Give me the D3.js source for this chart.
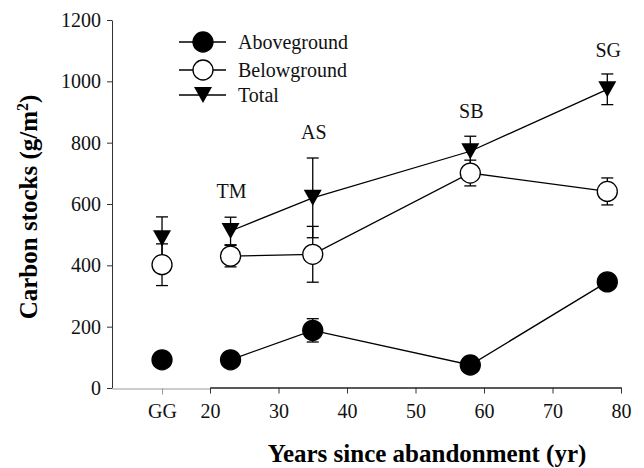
<!DOCTYPE html>
<html><head><meta charset="utf-8">
<script src="https://cdn.jsdelivr.net/npm/d3@7"></script>
<style>body{margin:0;background:#fff}svg{display:block}text{font-family:"Liberation Serif","DejaVu Serif",serif}</style>
</head><body><svg id="c" width="644" height="468"></svg>
<script>
// ---- data ----
const sites = ["GG", "TM", "AS", "SB", "SG"];
const years = [13, 23, 35, 58, 78];            // GG plotted on the broken left segment
const xTicks = [20, 30, 40, 50, 60, 70, 80];
const yTicks = [0, 200, 400, 600, 800, 1000, 1200];
const above = [92, 92, 188, 75, 346];
const aboveErr = [0, 0, 38, 0, 0];
const below = [402, 430, 436, 701, 641];
const belowErr = [68, 35, 91, 42, 44];
const total = [488, 512, 620, 772, 974];
const totalErr = [70, 45, 130, 49, 50];
const siteLabelAt = [null, 642, 835, 902, 1101];
const seriesNames = ["Aboveground", "Belowground", "Total"];

// ---- layout ----
const svg = d3.select("#c");
const x = d3.scaleLinear().domain([20, 80]).range([210, 621]);
const xLeft = d3.scaleLinear().domain([5.7, 20]).range([112, 210]);
const y = d3.scaleLinear().domain([0, 1200]).range([388, 20]);
const px = v => v < 20 ? xLeft(v) : x(v);

// y axis
const ya = svg.append("g").attr("transform", "translate(112,0)")
  .call(d3.axisLeft(y).tickValues(yTicks).tickFormat(d3.format("d")).tickSize(5).tickSizeOuter(0).tickPadding(6));
ya.selectAll("text").attr("font-size", 20).attr("fill", "#111");
ya.selectAll("line,path").attr("stroke", "#333");

// x axis, broken: grey left part with GG, black main part
const xl = svg.append("g").attr("transform", "translate(0,388.5)")
  .call(d3.axisBottom(xLeft).tickValues([years[0]]).tickFormat(() => sites[0]).tickSize(6).tickSizeOuter(0).tickPadding(9));
xl.selectAll("line,path").attr("stroke", "#999");
const xa = svg.append("g").attr("transform", "translate(0,387.5)")
  .call(d3.axisBottom(x).tickValues(xTicks).tickFormat(d3.format("d")).tickSize(6).tickSizeOuter(0).tickPadding(10));
xa.select("path").attr("stroke", "#222").attr("stroke-width", 1.6);
xa.selectAll("line").attr("stroke", "#333");
[xl, xa, ya].forEach(g => g.attr("font-family", null).selectAll("text").attr("font-size", 20).attr("fill", "#111"));

// titles
svg.append("text").attr("x", 427).attr("y", 462).attr("text-anchor", "middle")
  .attr("font-size", 25).attr("font-weight", "bold").text("Years since abandonment (yr)");
const yt = svg.append("text").attr("transform", "translate(37,207) rotate(-90)").attr("text-anchor", "middle")
  .attr("font-size", 25).attr("font-weight", "bold");
yt.append("tspan").text("Carbon stocks (g/m");
yt.append("tspan").attr("font-size", 16).attr("dy", -9).text("2");
yt.append("tspan").attr("dy", 9).text(")");

// series
const idx = d3.range(1, sites.length); // connected points (GG not joined)
const line = d3.line();
const tri = (cx, cy, w, h) => `M${cx - w / 2},${cy - h / 2}L${cx + w / 2},${cy - h / 2}L${cx},${cy + h / 2}Z`;

function drawLine(vals) {
  svg.append("path").attr("d", line(idx.map(i => [px(years[i]), y(vals[i])])))
    .attr("fill", "none").attr("stroke", "#000").attr("stroke-width", 1.3);
}
function drawErr(vals, errs) {
  vals.forEach((v, i) => {
    if (!errs[i]) return;
    const cx = px(years[i]);
    const g = svg.append("g").attr("stroke", "#000").attr("stroke-width", 1.3);
    g.append("line").attr("x1", cx).attr("x2", cx).attr("y1", y(v - errs[i])).attr("y2", y(v + errs[i]));
    [v - errs[i], v + errs[i]].forEach(e => g.append("line").attr("x1", cx - 6).attr("x2", cx + 6).attr("y1", y(e)).attr("y2", y(e)));
  });
}
drawLine(above); drawLine(below); drawLine(total);
drawErr(below, belowErr); drawErr(total, totalErr); drawErr(above, aboveErr);

function circles(vals, fill) {
  svg.append("g").selectAll("circle").data(vals).join("circle")
    .attr("cx", (d, i) => px(years[i])).attr("cy", d => y(d)).attr("r", 10)
    .attr("fill", fill).attr("stroke", "#000").attr("stroke-width", 1.3);
}
circles(below, "#fff");
circles(above, "#000");
svg.append("g").selectAll("path").data(total).join("path")
  .attr("d", (d, i) => tri(px(years[i]), y(d), 18, 16)).attr("fill", "#000");

// site labels
svg.append("g").selectAll("text").data(idx).join("text")
  .attr("x", i => px(years[i]) + 1).attr("y", i => y(siteLabelAt[i]))
  .attr("dy", "0.35em").attr("text-anchor", "middle").attr("font-size", 20).attr("fill", "#111")
  .text(i => sites[i]);

// legend
const lg = svg.append("g");
seriesNames.forEach((name, k) => {
  const ly = [42, 70, 95][k];
  lg.append("line").attr("x1", 179).attr("x2", 226).attr("y1", ly).attr("y2", ly).attr("stroke", "#000").attr("stroke-width", 1.3);
  if (k < 2) lg.append("circle").attr("cx", 203).attr("cy", ly).attr("r", 10).attr("fill", k === 0 ? "#000" : "#fff").attr("stroke", "#000").attr("stroke-width", 1.3);
  else lg.append("path").attr("d", tri(203, ly, 18, 16)).attr("fill", "#000");
  lg.append("text").attr("x", 238).attr("y", ly).attr("dy", "0.35em").attr("font-size", 20).attr("fill", "#111").text(name);
});
</script></body></html>
